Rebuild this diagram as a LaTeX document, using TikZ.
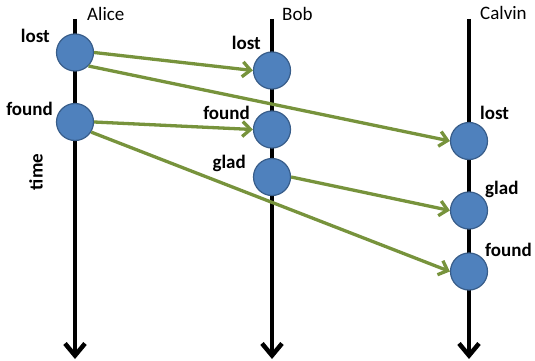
\documentclass[tikz,border=0pt]{standalone}
\usepackage{fontspec}
\setmainfont{Carlito}
\usetikzlibrary{arrows.meta}
\usetikzlibrary{positioning}

\begin{document}
\begin{tikzpicture}[x=1pt,y=-1pt,
	event/.style={circle,draw=evborder,fill=evfill,line width=1.2pt,minimum size=37pt,inner sep=0pt},
	tag/.style={font=\fontsize{19}{22}\selectfont\bfseries,inner sep=0pt},
	who/.style={font=\fontsize{19}{22}\selectfont,inner sep=0pt,anchor=base west},
	life/.style={line width=4.5pt,line join=miter,-{Straight Barb[length=12pt,width=20pt]}},
	msg/.style={line width=3.3pt,color=msggreen,-{Straight Barb[length=8pt,width=15pt]}}]
	
	\definecolor{evfill}{RGB}{79,129,189}
	\definecolor{evborder}{RGB}{56,93,138}
	\definecolor{msggreen}{RGB}{119,147,60}
	
	\useasboundingbox (0,0) rectangle (535,361);
	
	% lifelines
	\coordinate (at) at (75,19);
	\coordinate (ab) at (75,359);
	\coordinate (bt) at (272,19);
	\coordinate (bb) at (272,359);
	\coordinate (ct) at (469,19);
	\coordinate (cb) at (469,359);
	\draw[life] (at) -- (ab);
	\draw[life] (bt) -- (bb);
	\draw[life] (ct) -- (cb);
	
	\node[who] (alice) at (87,21) {Alice};
	\node[who] (bob) at (282,21) {Bob};
	\node[who] (calvin) at (480,20) {Calvin};
	\node[tag,rotate=90] (time) at (36,172) {time};
	
	% events
	\node[event] (al) at (75,52.5) {};
	\node[event] (af) at (75,122) {};
	\node[event] (bl) at (272,70.5) {};
	\node[event] (bf) at (272,129.5) {};
	\node[event] (bg) at (272,177) {};
	\node[event] (cl) at (469,141) {};
	\node[event] (cg) at (469,210.5) {};
	\node[event] (cf) at (469,271.5) {};
	
	\node[tag,anchor=base east] (all) at (50,42) {lost};
	\node[tag,anchor=base east] (afl) at (53,115) {found};
	\node[tag,anchor=base east] (bll) at (261,49) {lost};
	\node[tag,anchor=base east] (bfl) at (250,119) {found};
	\node[tag,anchor=base east] (bgl) at (246,168) {glad};
	\node[tag,anchor=base west] (cll) at (480,119) {lost};
	\node[tag,anchor=base west] (cgl) at (485,194) {glad};
	\node[tag,anchor=base west] (cfl) at (485,256) {found};
	
	% messages
	\path[msg]
	(al.east) edge (bl.west)
	(al.-45) edge (cl.west)
	(af.east) edge (bf.west)
	(af.-32) edge (cf.west)
	(bg.east) edge (cg.west);
\end{tikzpicture}
\end{document}
